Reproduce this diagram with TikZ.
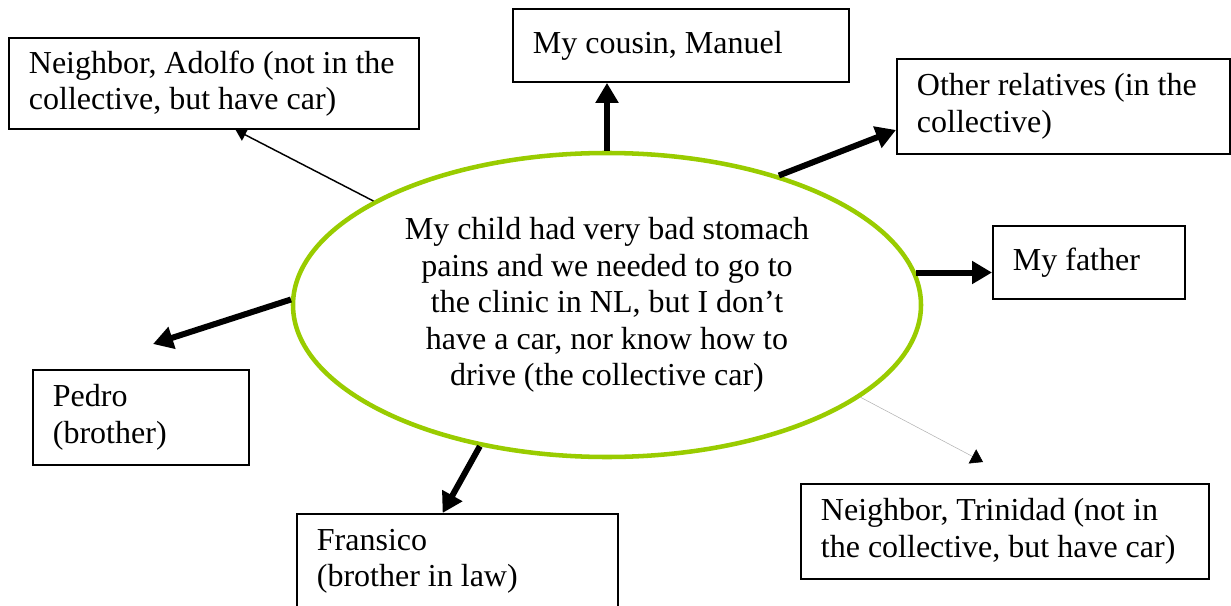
\documentclass[tikz,border=0pt]{standalone}
\usepackage{fontspec}
\setmainfont{Liberation Serif}
\usetikzlibrary{arrows.meta, shapes.geometric}

\definecolor{leaf}{RGB}{153,204,0}

\begin{document}
\begin{tikzpicture}[
  x=0.75pt, y=-0.75pt,
  font=\fontsize{24}{27.4}\selectfont,
  box/.style={draw, line width=1.4pt, rectangle, anchor=north west, align=left, inner xsep=0pt, inner ysep=0pt,
    execute at begin node={\leftskip=15pt\spaceskip=0pt\xspaceskip=0pt}},
  story/.style={draw=leaf, line width=3.4pt, ellipse, align=center, inner sep=0pt, minimum width=471pt, minimum height=228pt},
  heavyarrow/.style={line width=4.5pt, -{Triangle[length=15pt,width=16.5pt]}},
  lightarrow/.style={line width=1.1pt, -{Triangle[length=8pt,width=10pt]}},
  faintarrow/.style={draw=gray!60, line width=0.4pt, -{Triangle[length=9pt,width=12pt,color=black,fill=black]}}
]
  \clip (0,0) rectangle (1231,606);

  % Central event
  \node[story] (story) at (607,305) {My child had very bad stomach\\pains and we needed to go to\\the clinic in NL, but I don’t\\have a car, nor know how to\\drive (the collective car)};

  % People around it
  \node[box, text width=307.5pt, minimum height=68.25pt] (adolfo) at (8,37) {Neighbor, Adolfo (not in the\\collective, but have car)};
  \node[box, text width=252pt, minimum height=54.75pt] (manuel) at (512,8) {My cousin, Manuel};
  \node[box, text width=249.75pt, minimum height=71.25pt] (others) at (896,58) {Other relatives (in the\\collective)};
  \node[box, text width=144pt, minimum height=54.75pt] (father) at (992,225) {My father};
  \node[box, text width=306pt, minimum height=71.25pt] (trinidad) at (800,483) {Neighbor, Trinidad (not in\\the collective, but have car)};
  \node[box, text width=162pt, minimum height=71.25pt] (pedro) at (32,369) {Pedro\\(brother)};
  \node[box, text width=240.75pt, minimum height=71.25pt] (fransico) at (296,513) {Fransico\\(brother in law)};

  % Free arrow ends
  \coordinate (tipT) at (983,462);
  \coordinate (tipP) at (153,344);

  % Connections
  \draw[lightarrow] (story.156.8) -- (adolfo.-65);
  \draw[heavyarrow] (story.north) -- (story.north |- manuel.south);
  \draw[heavyarrow] (story.37) -- (others.188);
  \draw[heavyarrow] (story.6) -- (story.6 -| father.west);
  \draw[faintarrow] (story.-20) -- (tipT);
  \draw[heavyarrow] (story.179.4) -- (tipP);
  \draw[heavyarrow] (story.-132) -- (fransico.107);

\end{tikzpicture}
\end{document}
